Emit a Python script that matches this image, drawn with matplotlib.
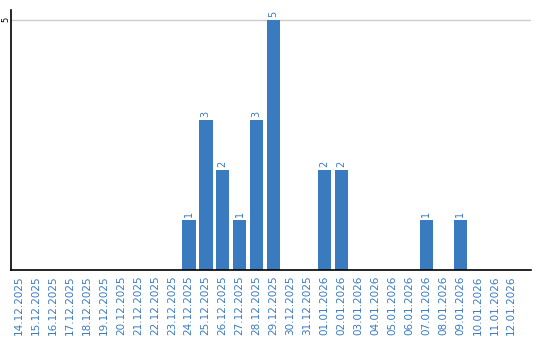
import matplotlib.pyplot as plt
import numpy as np

dates = ["14.12.2025", "15.12.2025", "16.12.2025", "17.12.2025", "18.12.2025",
         "19.12.2025", "20.12.2025", "21.12.2025", "22.12.2025", "23.12.2025",
         "24.12.2025", "25.12.2025", "26.12.2025", "27.12.2025", "28.12.2025",
         "29.12.2025", "30.12.2025", "31.12.2025", "01.01.2026", "02.01.2026",
         "03.01.2026", "04.01.2026", "05.01.2026", "06.01.2026", "07.01.2026",
         "08.01.2026", "09.01.2026", "10.01.2026", "11.01.2026", "12.01.2026"]
counts = [0, 0, 0, 0, 0, 0, 0, 0, 0, 0,
          1, 3, 2, 1, 3, 5, 0, 0, 2, 2,
          0, 0, 0, 0, 1, 0, 1, 0, 0, 0]

blue = "#3a7bc0"

fig = plt.figure(figsize=(5.4, 3.4), dpi=100)
ax = fig.add_axes([0.021, 0.206, 0.962, 0.765])

x = np.arange(len(dates))
ax.bar(x, counts, width=0.8, color=blue, zorder=2)
for xi, c in zip(x, counts):
    if c > 0:
        ax.text(xi, c + 0.05, str(c), rotation=90, ha="center", va="bottom",
                fontsize=7, color=blue)

# plot area runs a bit past the last date on the right
ax.set_xlim(-0.45, len(dates) + 0.15)
ax.set_ylim(0, 5.2)
ax.set_yticks([5])
ax.set_yticklabels(["5"], rotation=90, va="center", fontsize=6)
ax.axhline(5, color="#cccccc", linewidth=1, zorder=1)
ax.set_xticks(x)
ax.set_xticklabels(dates, rotation=90, fontsize=7.5, color=blue)
ax.tick_params(axis="x", length=0, pad=4)
ax.tick_params(axis="y", length=0, pad=1)
ax.spines["top"].set_visible(False)
ax.spines["right"].set_visible(False)
ax.spines["left"].set_linewidth(1.2)
ax.spines["bottom"].set_linewidth(1.2)

fig.savefig("out.png", dpi=100)
